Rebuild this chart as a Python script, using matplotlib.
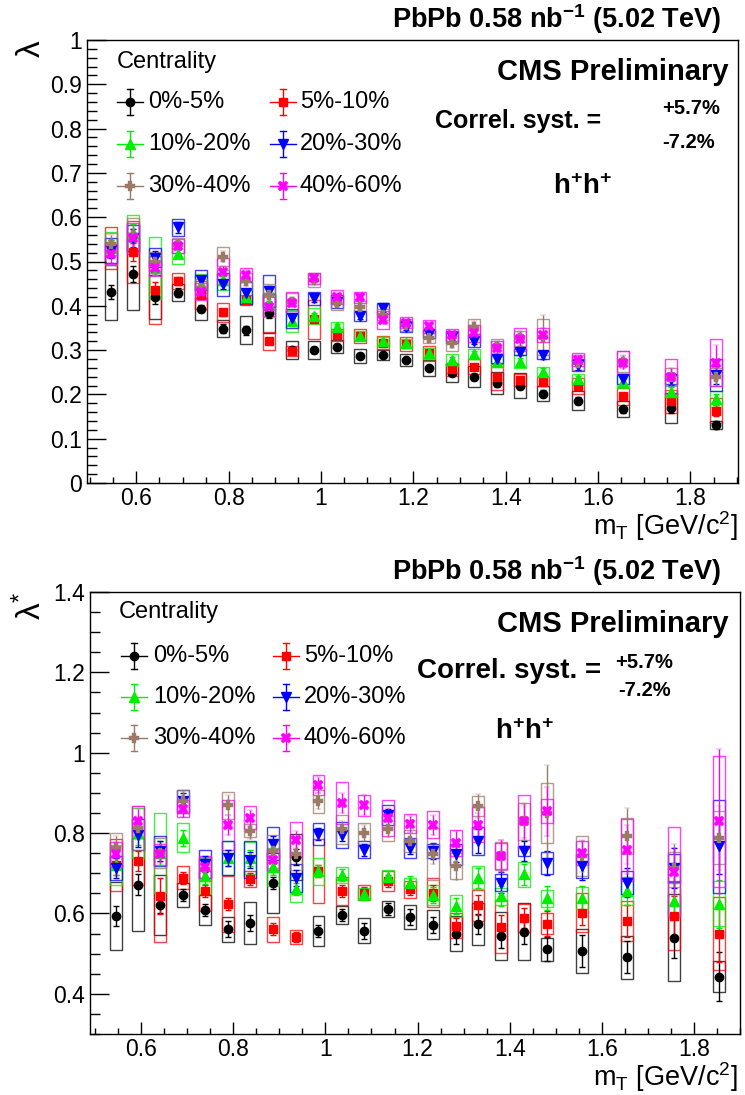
import matplotlib
matplotlib.use('Agg')
import matplotlib.pyplot as plt
from matplotlib.patches import Rectangle
from matplotlib.lines import Line2D
from matplotlib.ticker import MultipleLocator, FuncFormatter

plt.rcParams['font.family'] = ['Liberation Sans', 'DejaVu Sans']
plt.rcParams['mathtext.fontset'] = 'custom'
plt.rcParams['mathtext.rm'] = 'Liberation Sans'
plt.rcParams['mathtext.bf'] = 'Liberation Sans:bold'
plt.rcParams['mathtext.it'] = 'Liberation Sans:italic'

# ---------------- data ----------------
mT = [0.545, 0.593, 0.641, 0.690, 0.739, 0.788, 0.837, 0.887, 0.936, 0.985, 1.035, 1.084,
      1.135, 1.184, 1.233, 1.283, 1.332, 1.382, 1.431, 1.481, 1.557, 1.655, 1.757, 1.855]

labels = ["0%-5%", "5%-10%", "10%-20%", "20%-30%", "30%-40%", "40%-60%"]

# top panel: lambda
lam_0_5 = [0.431, 0.471, 0.420, 0.430, 0.393, 0.348, 0.345, 0.383, 0.300, 0.300, 0.308, 0.287,
           0.289, 0.278, 0.259, 0.249, 0.240, 0.225, 0.220, 0.202, 0.186, 0.166, 0.169, 0.131]
lam_5_10 = [0.530, 0.522, 0.436, 0.456, 0.425, 0.385, 0.413, 0.320, 0.298, 0.370, 0.334, 0.332,
            0.317, 0.313, 0.293, 0.257, 0.262, 0.240, 0.232, 0.229, 0.219, 0.196, 0.184, 0.163]
lam_10_20 = [0.530, 0.564, 0.485, 0.518, 0.450, 0.458, 0.420, 0.402, 0.365, 0.376, 0.353, 0.332,
             0.320, 0.315, 0.293, 0.278, 0.291, 0.274, 0.274, 0.251, 0.234, 0.229, 0.206, 0.189]
lam_20_30 = [0.525, 0.553, 0.509, 0.577, 0.458, 0.449, 0.428, 0.434, 0.372, 0.417, 0.409, 0.377,
             0.394, 0.353, 0.336, 0.330, 0.321, 0.281, 0.296, 0.289, 0.266, 0.234, 0.234, 0.244]
lam_30_40 = [0.540, 0.560, 0.500, 0.537, 0.440, 0.511, 0.455, 0.424, 0.409, 0.458, 0.406, 0.398,
             0.380, 0.357, 0.327, 0.315, 0.353, 0.308, 0.327, 0.330, 0.272, 0.274, 0.240, 0.240]
lam_40_60 = [0.517, 0.552, 0.485, 0.535, 0.432, 0.477, 0.470, 0.398, 0.407, 0.462, 0.420, 0.419,
             0.368, 0.362, 0.354, 0.334, 0.338, 0.304, 0.324, 0.334, 0.278, 0.272, 0.240, 0.272]

lam_stat_0_5 = [0.015, 0.018, 0.015, 0.010, 0.008, 0.010, 0.010, 0.010, 0.006, 0.006, 0.006, 0.005,
                0.005, 0.005, 0.005, 0.006, 0.007, 0.008, 0.008, 0.008, 0.008, 0.008, 0.010, 0.010]
lam_stat_5_10 = [0.018, 0.020, 0.018, 0.010, 0.008, 0.008, 0.008, 0.006, 0.005, 0.006, 0.005, 0.005,
                 0.005, 0.005, 0.005, 0.006, 0.007, 0.008, 0.008, 0.008, 0.008, 0.008, 0.010, 0.012]
lam_stat_10_20 = [0.018, 0.020, 0.015, 0.010, 0.010, 0.010, 0.008, 0.008, 0.008, 0.008, 0.006, 0.006,
                  0.006, 0.006, 0.006, 0.007, 0.008, 0.008, 0.008, 0.008, 0.008, 0.010, 0.010, 0.012]
lam_stat_20_30 = [0.018, 0.020, 0.015, 0.012, 0.010, 0.010, 0.010, 0.010, 0.008, 0.008, 0.008, 0.007,
                  0.007, 0.007, 0.007, 0.008, 0.008, 0.008, 0.008, 0.008, 0.010, 0.010, 0.012, 0.020]
lam_stat_30_40 = [0.020, 0.022, 0.015, 0.012, 0.010, 0.012, 0.010, 0.010, 0.010, 0.010, 0.008, 0.008,
                  0.008, 0.008, 0.008, 0.010, 0.012, 0.012, 0.015, 0.050, 0.012, 0.015, 0.015, 0.020]
lam_stat_40_60 = [0.020, 0.022, 0.015, 0.012, 0.010, 0.012, 0.010, 0.010, 0.010, 0.010, 0.008, 0.008,
                  0.008, 0.008, 0.008, 0.010, 0.010, 0.012, 0.015, 0.015, 0.012, 0.015, 0.020, 0.040]

lam_sys_0_5 = [0.062, 0.081, 0.050, 0.020, 0.025, 0.019, 0.031, 0.044, 0.020, 0.020, 0.015, 0.016,
               0.011, 0.014, 0.018, 0.020, 0.024, 0.025, 0.028, 0.017, 0.021, 0.018, 0.034, 0.010]
lam_sys_5_10 = [0.048, 0.070, 0.077, 0.019, 0.032, 0.022, 0.012, 0.020, 0.011, 0.044, 0.013, 0.015,
                0.015, 0.016, 0.017, 0.015, 0.017, 0.029, 0.013, 0.011, 0.017, 0.019, 0.027, 0.028]
lam_sys_10_20 = [0.037, 0.042, 0.070, 0.024, 0.022, 0.022, 0.015, 0.028, 0.025, 0.018, 0.011, 0.010,
                 0.010, 0.010, 0.012, 0.013, 0.012, 0.012, 0.014, 0.010, 0.012, 0.015, 0.012, 0.018]
lam_sys_20_30 = [0.028, 0.029, 0.021, 0.019, 0.022, 0.026, 0.025, 0.036, 0.021, 0.015, 0.015, 0.011,
                 0.013, 0.013, 0.009, 0.013, 0.015, 0.011, 0.007, 0.010, 0.013, 0.011, 0.011, 0.036]
lam_sys_30_40 = [0.025, 0.038, 0.021, 0.017, 0.020, 0.022, 0.020, 0.025, 0.020, 0.016, 0.015, 0.013,
                 0.013, 0.013, 0.012, 0.017, 0.017, 0.016, 0.017, 0.041, 0.018, 0.024, 0.019, 0.020]
lam_sys_40_60 = [0.022, 0.035, 0.017, 0.015, 0.019, 0.030, 0.015, 0.021, 0.024, 0.012, 0.015, 0.013,
                 0.020, 0.013, 0.015, 0.013, 0.019, 0.016, 0.026, 0.016, 0.015, 0.027, 0.039, 0.054]

# bottom panel: lambda*
ls_0_5 = [0.594, 0.672, 0.621, 0.646, 0.609, 0.561, 0.576, 0.675, 0.740, 0.557, 0.596, 0.557,
          0.610, 0.592, 0.572, 0.550, 0.573, 0.544, 0.555, 0.511, 0.507, 0.491, 0.540, 0.443]
ls_5_10 = [0.720, 0.730, 0.643, 0.689, 0.656, 0.624, 0.686, 0.561, 0.542, 0.705, 0.656, 0.652,
           0.681, 0.660, 0.652, 0.569, 0.620, 0.567, 0.588, 0.575, 0.602, 0.582, 0.594, 0.550]
ls_10_20 = [0.720, 0.800, 0.750, 0.788, 0.693, 0.738, 0.738, 0.716, 0.660, 0.705, 0.696, 0.648,
            0.691, 0.677, 0.646, 0.619, 0.689, 0.643, 0.697, 0.638, 0.639, 0.655, 0.631, 0.624]
ls_20_30 = [0.714, 0.796, 0.755, 0.879, 0.722, 0.738, 0.734, 0.774, 0.689, 0.798, 0.796, 0.759,
            0.844, 0.763, 0.755, 0.747, 0.780, 0.677, 0.755, 0.726, 0.718, 0.677, 0.714, 0.767]
ls_30_40 = [0.763, 0.813, 0.751, 0.879, 0.710, 0.869, 0.806, 0.755, 0.747, 0.879, 0.809, 0.800,
            0.811, 0.780, 0.748, 0.718, 0.867, 0.743, 0.829, 0.850, 0.743, 0.792, 0.714, 0.788]
ls_40_60 = [0.747, 0.829, 0.747, 0.861, 0.715, 0.821, 0.838, 0.734, 0.784, 0.919, 0.875, 0.869,
            0.838, 0.823, 0.821, 0.776, 0.821, 0.743, 0.829, 0.854, 0.751, 0.759, 0.704, 0.829]

ls_stat_0_5 = [0.025, 0.025, 0.020, 0.015, 0.015, 0.020, 0.020, 0.015, 0.020, 0.015, 0.015, 0.020,
               0.015, 0.020, 0.020, 0.025, 0.025, 0.030, 0.030, 0.030, 0.040, 0.040, 0.050, 0.060]
ls_stat_5_10 = [0.025, 0.025, 0.045, 0.015, 0.015, 0.015, 0.015, 0.015, 0.012, 0.015, 0.015, 0.015,
                0.015, 0.015, 0.020, 0.020, 0.025, 0.030, 0.025, 0.030, 0.030, 0.040, 0.050, 0.070]
ls_stat_10_20 = [0.025, 0.030, 0.030, 0.020, 0.020, 0.020, 0.020, 0.020, 0.015, 0.015, 0.015, 0.015,
                 0.015, 0.015, 0.020, 0.020, 0.025, 0.025, 0.025, 0.030, 0.030, 0.035, 0.045, 0.060]
ls_stat_20_30 = [0.025, 0.030, 0.025, 0.020, 0.020, 0.020, 0.020, 0.020, 0.020, 0.015, 0.015, 0.015,
                 0.015, 0.015, 0.020, 0.020, 0.030, 0.025, 0.025, 0.030, 0.035, 0.035, 0.050, 0.070]
ls_stat_30_40 = [0.030, 0.030, 0.025, 0.025, 0.020, 0.025, 0.020, 0.020, 0.020, 0.020, 0.020, 0.020,
                 0.020, 0.020, 0.025, 0.035, 0.030, 0.040, 0.045, 0.120, 0.040, 0.070, 0.060, 0.080]
ls_stat_40_60 = [0.030, 0.030, 0.020, 0.020, 0.020, 0.025, 0.020, 0.020, 0.020, 0.020, 0.025, 0.025,
                 0.025, 0.020, 0.025, 0.030, 0.030, 0.040, 0.040, 0.060, 0.030, 0.060, 0.060, 0.180]

ls_sys_0_5 = [0.085, 0.115, 0.074, 0.030, 0.038, 0.031, 0.052, 0.075, 0.057, 0.037, 0.022, 0.031,
              0.020, 0.030, 0.036, 0.044, 0.052, 0.059, 0.072, 0.029, 0.054, 0.054, 0.109, 0.038]
ls_sys_5_10 = [0.065, 0.058, 0.114, 0.029, 0.050, 0.070, 0.019, 0.031, 0.017, 0.080, 0.034, 0.018,
               0.024, 0.022, 0.035, 0.031, 0.039, 0.066, 0.035, 0.027, 0.048, 0.050, 0.086, 0.090]
ls_sys_10_20 = [0.050, 0.063, 0.100, 0.036, 0.044, 0.043, 0.039, 0.048, 0.032, 0.033, 0.020, 0.015,
                0.016, 0.011, 0.026, 0.028, 0.029, 0.021, 0.031, 0.021, 0.028, 0.035, 0.035, 0.056]
ls_sys_20_30 = [0.030, 0.038, 0.037, 0.029, 0.035, 0.043, 0.047, 0.042, 0.035, 0.028, 0.032, 0.022,
                0.025, 0.025, 0.017, 0.027, 0.035, 0.022, 0.012, 0.028, 0.030, 0.028, 0.035, 0.116]
ls_sys_30_40 = [0.037, 0.054, 0.037, 0.028, 0.030, 0.033, 0.016, 0.041, 0.040, 0.029, 0.036, 0.026,
                0.031, 0.027, 0.064, 0.033, 0.025, 0.034, 0.046, 0.075, 0.050, 0.045, 0.039, 0.066]
ls_sys_40_60 = [0.031, 0.038, 0.027, 0.022, 0.027, 0.062, 0.029, 0.027, 0.043, 0.025, 0.053, 0.026,
                0.045, 0.024, 0.033, 0.032, 0.044, 0.032, 0.067, 0.030, 0.030, 0.077, 0.112, 0.163]

colors = ['#000000', '#ff0000', '#00ee00', '#0000ff', '#9c7a68', '#ff00ff']
markers = ['o', 's', '^', 'v', 'P', 'X']
msizes = [6.0, 5.5, 6.5, 6.5, 7.5, 7.5]
mews = [1.0, 1.0, 1.0, 1.0, 0.3, 0.3]

top_vals = [lam_0_5, lam_5_10, lam_10_20, lam_20_30, lam_30_40, lam_40_60]
top_stat = [lam_stat_0_5, lam_stat_5_10, lam_stat_10_20, lam_stat_20_30, lam_stat_30_40, lam_stat_40_60]
top_sys = [lam_sys_0_5, lam_sys_5_10, lam_sys_10_20, lam_sys_20_30, lam_sys_30_40, lam_sys_40_60]
bot_vals = [ls_0_5, ls_5_10, ls_10_20, ls_20_30, ls_30_40, ls_40_60]
bot_stat = [ls_stat_0_5, ls_stat_5_10, ls_stat_10_20, ls_stat_20_30, ls_stat_30_40, ls_stat_40_60]
bot_sys = [ls_sys_0_5, ls_sys_5_10, ls_sys_10_20, ls_sys_20_30, ls_sys_30_40, ls_sys_40_60]

# ---------------- figure ----------------
W, H = 745, 1095
fig = plt.figure(figsize=(W / 100, H / 100), dpi=100)


def fx(px):
    return px / W


def fy(py):
    return 1 - py / H


ax1 = fig.add_axes([fx(87), fy(483), fx(738) - fx(87), fy(40) - fy(483)])
ax2 = fig.add_axes([fx(90), fy(1034), fx(740) - fx(90), fy(592) - fy(1034)])

fmt = FuncFormatter(lambda v, p: '%g' % round(v, 6))
BW = 0.013


def style(ax, ymaj, ymin):
    ax.xaxis.set_major_locator(MultipleLocator(0.2))
    ax.xaxis.set_minor_locator(MultipleLocator(0.05))
    ax.yaxis.set_major_locator(MultipleLocator(ymaj))
    ax.yaxis.set_minor_locator(MultipleLocator(ymin))
    ax.xaxis.set_major_formatter(fmt)
    ax.yaxis.set_major_formatter(fmt)
    ax.tick_params(which='both', direction='in', top=False, right=False, labelsize=16.5, width=1)
    ax.tick_params(axis='y', which='major', length=13.5, pad=3.5)
    ax.tick_params(axis='y', which='minor', length=7)
    ax.tick_params(axis='x', which='major', length=8.5, pad=3)
    ax.tick_params(axis='x', which='minor', length=4.5)
    for s in ax.spines.values():
        s.set_linewidth(1.0)


def draw(ax, vals_list, stat_list, sys_list):
    for vals, stat, sys, c, m, ms, mw in zip(vals_list, stat_list, sys_list, colors, markers, msizes, mews):
        for x, v, s in zip(mT, vals, sys):
            ax.add_patch(Rectangle((x - BW, v - s), 2 * BW, 2 * s, fill=False,
                                   ec=c, lw=1.0, alpha=0.75))
        ax.errorbar(mT, vals, yerr=stat, fmt=m, color=c, mec=c, mfc=c, ms=ms, mew=mw,
                    capsize=2, elinewidth=1, capthick=1)


style(ax1, 0.1, 0.02)
ax1.set_xlim(0.493, 1.903)
ax1.set_ylim(0.0, 1.0)
draw(ax1, top_vals, top_stat, top_sys)

style(ax2, 0.2, 0.05)
ax2.set_xlim(0.489, 1.90)
ax2.set_ylim(0.3, 1.4)
draw(ax2, bot_vals, bot_stat, bot_sys)


def legend_entry(cx, cy, c, m, ms, mw, label, tx):
    tf = fig.transFigure
    fig.add_artist(Line2D([fx(cx - 13), fx(cx + 13)], [fy(cy), fy(cy)], color=c, lw=1, transform=tf))
    fig.add_artist(Line2D([fx(cx), fx(cx)], [fy(cy - 13), fy(cy + 13)], color=c, lw=1, transform=tf))
    for yy in (cy - 13, cy + 13):
        fig.add_artist(Line2D([fx(cx - 3), fx(cx + 3)], [fy(yy), fy(yy)], color=c, lw=1, transform=tf))
    fig.add_artist(Line2D([fx(cx)], [fy(cy)], marker=m, ms=ms, mew=mw, color=c, ls='none', transform=tf))
    fig.text(fx(tx), fy(cy), label, ha='left', va='center', fontsize=17)


def panel_text(top, title_y, leg_title, rows, cols, txs, cms_y, corr, corr_fs, up, dn, pm_fs, hh, xl_bottom, ylab):
    fig.text(fx(721), fy(title_y), r"PbPb 0.58 nb$^{\mathbf{-1}}$ (5.02 TeV)", ha='right', va='center',
             fontsize=19.5, weight='bold')
    fig.text(fx(31), fy(top), ylab, rotation=90, ha='center', va='top', fontsize=24)
    fig.text(fx(738), fy(xl_bottom), r"m$_{\mathrm{T}}$ [GeV/c$^{2}$]", ha='right', va='bottom', fontsize=19.5)
    fig.text(fx(leg_title[0]), fy(leg_title[1]), "Centrality", ha='left', va='center', fontsize=17)
    k = 0
    for r in rows:
        for cx, tx in zip(cols, txs):
            legend_entry(cx, r, colors[k], markers[k], msizes[k], mews[k], labels[k], tx)
            k += 1
    fig.text(fx(729), fy(cms_y), "CMS Preliminary", ha='right', va='center', fontsize=21, weight='bold')
    fig.text(fx(corr[0]), fy(corr[1]), "Correl. syst. =", ha='right', va='center', fontsize=corr_fs,
             weight='bold')
    fig.text(fx(up[0]), fy(up[1]), "+5.7%", ha='left', va='center', fontsize=pm_fs, weight='bold')
    fig.text(fx(dn[0]), fy(dn[1]), "-7.2%", ha='left', va='center', fontsize=pm_fs, weight='bold')
    fig.text(fx(hh[0]), fy(hh[1]), r"$\mathbf{h^{+}h^{+}}$", ha='center', va='center', fontsize=20)


panel_text(40, 19, (117, 62), [102, 144, 186], [130, 283], [148, 300], 72,
           (601, 121), 18, (662, 108), (662, 142), 14.5, (583, 187), 543, "λ")
panel_text(592, 571, (119, 612), [656, 697, 738], [134, 286], [153, 304], 624,
           (601, 671), 20, (615, 662), (618, 691), 14.5, (525, 732), 1094, "λ$^{*}$")

fig.savefig('out.png', dpi=100)
